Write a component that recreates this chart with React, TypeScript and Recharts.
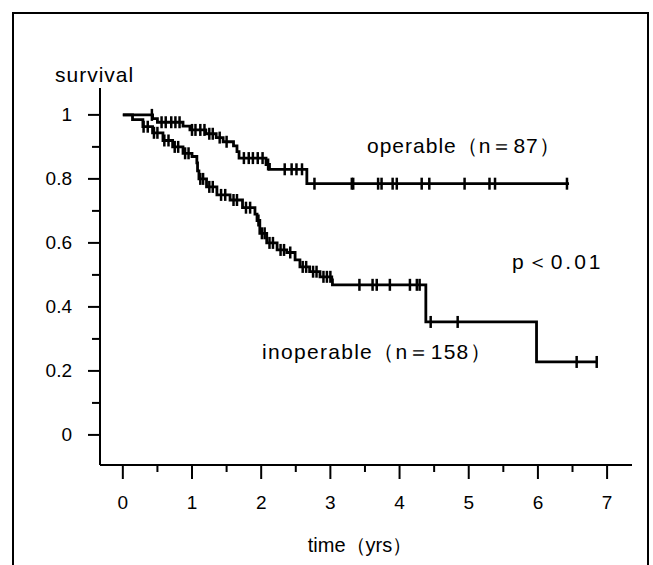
import { ComposedChart, Line, Scatter, XAxis, YAxis } from 'recharts';

// Kaplan-Meier steps (time in years, survival fraction)
const opTimes = [0, 0.43, 0.5, 0.87, 0.97, 1.2, 1.35, 1.45, 1.6, 1.65, 1.68, 2.07, 2.12, 2.66, 6.45];
const opSurv = [1, 0.988, 0.977, 0.965, 0.953, 0.941, 0.929, 0.916, 0.903, 0.885, 0.865, 0.845, 0.83, 0.785, 0.785];
const opCensor = [
  0.42, 0.56, 0.62, 0.7, 0.76, 0.82, 1.0, 1.05, 1.12, 1.18, 1.25, 1.3, 1.4, 1.5, 1.75, 1.82, 1.88, 1.95,
  2.02, 2.1, 2.34, 2.44, 2.51, 2.59, 2.77, 3.31, 3.33, 3.69, 3.74, 3.9, 3.96, 4.32, 4.43, 4.94, 5.3, 5.38, 6.42,
];

const inopTimes = [
  0, 0.14, 0.29, 0.43, 0.58, 0.72, 0.87, 1.0, 1.07, 1.08, 1.1, 1.21, 1.36, 1.55, 1.73, 1.91, 1.94, 1.98,
  2.08, 2.23, 2.37, 2.49, 2.56, 2.7, 2.85, 3.02, 3.03, 4.38, 5.98, 6.85,
];
const inopSurv = [
  1, 0.985, 0.963, 0.944, 0.92, 0.9, 0.88, 0.87, 0.85, 0.825, 0.8, 0.775, 0.75, 0.734, 0.71, 0.69, 0.67, 0.63,
  0.6, 0.578, 0.57, 0.547, 0.525, 0.51, 0.494, 0.484, 0.469, 0.353, 0.228, 0.228,
];
const inopCensor = [
  0.3, 0.36, 0.45, 0.5, 0.6, 0.66, 0.75, 0.8, 0.9, 0.95, 1.12, 1.16, 1.25, 1.3, 1.42, 1.48, 1.6, 1.65, 1.78,
  1.84, 1.96, 2.01, 2.05, 2.12, 2.17, 2.28, 2.33, 2.42, 2.6, 2.65, 2.75, 2.8, 2.9, 2.95, 3.0, 3.42, 3.61,
  3.67, 3.86, 4.15, 4.25, 4.29, 4.45, 4.84, 6.56, 6.85,
];

const xTicks = [0, 0.5, 1, 1.5, 2, 2.5, 3, 3.5, 4, 4.5, 5, 5.5, 6, 6.5, 7];
const xLabels = ['0', '1', '2', '3', '4', '5', '6', '7'];
const yTicks = [0, 0.1, 0.2, 0.3, 0.4, 0.5, 0.6, 0.7, 0.8, 0.9, 1];
const yLabels = ['0', '0.2', '0.4', '0.6', '0.8', '1'];

const FONT = '"Liberation Sans", Arial, Helvetica, sans-serif';

const toRows = (times: number[], surv: number[]) => times.map((t, i) => ({ t, s: surv[i] }));

// survival value at time t on a step curve
const survAt = (times: number[], surv: number[], t: number) => {
  let s = surv[0];
  for (let i = 0; i < times.length; i++) if (times[i] <= t) s = surv[i];
  return s;
};

const opData = toRows(opTimes, opSurv);
const inopData = toRows(inopTimes, inopSurv);
const opMarks = opCensor.map(t => ({ t, s: survAt(opTimes, opSurv, t) }));
const inopMarks = inopCensor.map(t => ({ t, s: survAt(inopTimes, inopSurv, t) }));

const XTick = ({ x, y, payload }: any) => {
  const v = payload.value;
  const major = Number.isInteger(v);
  return (
    <g>
      <line x1={x} x2={x} y1={y} y2={y + (major ? 14 : 7)} stroke="#000" strokeWidth={2} />
      {major && (
        <text x={x} y={y + 37} textAnchor="middle" dominantBaseline="central" fontFamily={FONT} fontSize={19} fill="#000">
          {xLabels[v]}
        </text>
      )}
    </g>
  );
};

const YTick = ({ x, y, payload }: any) => {
  const k = Math.round(payload.value * 10);
  const major = k % 2 === 0;
  return (
    <g>
      <line x1={x - (major ? 12 : 8)} x2={x} y1={y} y2={y} stroke="#000" strokeWidth={2} />
      {major && (
        <text x={x - 28} y={y} textAnchor="end" dominantBaseline="central" fontFamily={FONT} fontSize={19} fill="#000">
          {yLabels[k / 2]}
        </text>
      )}
    </g>
  );
};

const Censor = ({ cx, cy }: any) => (
  <line x1={cx} x2={cx} y1={cy - 6} y2={cy + 6} stroke="#000" strokeWidth={2.5} />
);

export default function App() {
  return (
    <div style={{ position: 'absolute', left: 0, top: 0, width: 653, height: 565, background: '#fff' }}>
      <ComposedChart width={653} height={565} margin={{ top: 88, right: 21, left: 40, bottom: 50 }}>
        <XAxis
          dataKey="t"
          type="number"
          domain={[-0.33, 7.36]}
          ticks={xTicks}
          allowDataOverflow
          height={50}
          tickSize={0}
          tickMargin={0}
          tick={<XTick />}
          axisLine={{ stroke: '#000', strokeWidth: 2 }}
          interval={0}
        />
        <YAxis
          type="number"
          domain={[-0.094, 1.084]}
          ticks={yTicks}
          allowDataOverflow
          width={60}
          tickSize={0}
          tickMargin={0}
          tick={<YTick />}
          axisLine={{ stroke: '#000', strokeWidth: 2 }}
          interval={0}
        />
        <Line data={opData} dataKey="s" type="stepAfter" stroke="#000" strokeWidth={2.8} dot={false} isAnimationActive={false} />
        <Line data={inopData} dataKey="s" type="stepAfter" stroke="#000" strokeWidth={2.8} dot={false} isAnimationActive={false} />
        <Scatter data={opMarks} dataKey="s" shape={<Censor />} isAnimationActive={false} />
        <Scatter data={inopMarks} dataKey="s" shape={<Censor />} isAnimationActive={false} />
      </ComposedChart>
      <svg width={653} height={565} style={{ position: 'absolute', left: 0, top: 0, pointerEvents: 'none' }}>
        <rect x={13} y={13} width={635} height={600} fill="none" stroke="#000" strokeWidth={2} />
        <g fontFamily={FONT} fontSize={21} fill="#000" letterSpacing={1}>
          <text x={55} y={82}>survival</text>
          <text x={367} y={153}>operable（n＝87）</text>
          <text x={512} y={269} letterSpacing={3}>p＜0.01</text>
          <text x={262} y={359} letterSpacing={1.3}>inoperable（n＝158）</text>
          <text x={360} y={552} textAnchor="middle" fontSize={20} letterSpacing={0}>time（yrs）</text>
        </g>
      </svg>
    </div>
  );
}
